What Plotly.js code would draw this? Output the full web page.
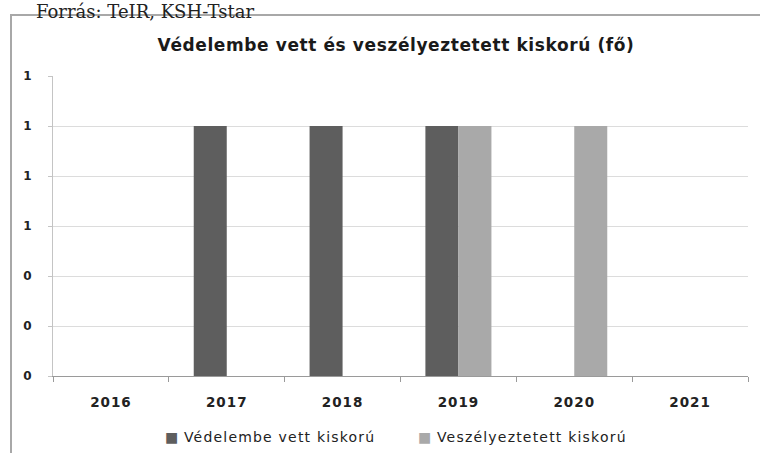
<!DOCTYPE html>
<html>
<head>
<meta charset="utf-8">
<script src="https://cdn.plot.ly/plotly-3.0.1.min.js"></script>
<style>
html,body{margin:0;padding:0;background:#fff;}
#chart{width:760px;height:453px;}
#chart .xtick text{letter-spacing:1px;}
</style>
</head>
<body>
<div id="chart"></div>
<script>
const years = ['2016', '2017', '2018', '2019', '2020', '2021'];
const vedelembeVett = [0, 1, 1, 1, 0, 0];
const veszelyeztetett = [0, 0, 0, 1, 1, 0];
const yTicks = [0, 0.2, 0.4, 0.6, 0.8, 1.0, 1.2];
const seriesNames = ['Védelembe vett kiskorú', 'Veszélyeztetett kiskorú'];
const seriesColors = ['#5e5e5e', '#a9a9a9'];
const titleText = 'Védelembe vett és veszélyeztetett kiskorú (fő)';
const sourceText = 'Forrás: TeIR, KSH-Tstar';

const FONT = '"DejaVu Sans", "Open Sans", sans-serif';

const traces = [
  {type: 'bar', x: years, y: vedelembeVett, name: seriesNames[0],
   marker: {color: seriesColors[0]}, hoverinfo: 'x+y'},
  {type: 'bar', x: years, y: veszelyeztetett, name: seriesNames[1],
   marker: {color: seriesColors[1]}, hoverinfo: 'x+y'}
];

const pxX = p => (p - 53) / 695;
const pxY = p => (376 - p) / 300;

const legendAnn = (i, xpx) => ({
  text: '<span style="color:' + seriesColors[i] + '">■</span><span style="letter-spacing:1.2px"> ' + seriesNames[i] + '</span>',
  xref: 'paper', yref: 'paper', x: pxX(xpx), xanchor: 'left', y: pxY(437), yanchor: 'middle',
  showarrow: false, font: {family: FONT, size: 14, color: '#222'}
});

const layout = {
  width: 760, height: 453,
  margin: {l: 53, r: 12, t: 76, b: 77},
  paper_bgcolor: '#fff', plot_bgcolor: '#fff',
  font: {family: FONT, color: '#222'},
  title: {text: '<b><span style="letter-spacing:0.6px">' + titleText + '</span></b>', x: 396 / 760, xanchor: 'center',
          y: 1 - 45 / 453, yanchor: 'middle', font: {size: 17, color: '#1a1a1a', family: FONT}},
  barmode: 'group', bargap: 0.43, bargroupgap: 0,
  xaxis: {type: 'category', showgrid: false, showline: true, linecolor: '#9a9a9a', linewidth: 1,
          ticks: 'outside', tickson: 'boundaries', ticklen: 5, tickcolor: '#9a9a9a',
          ticklabelstandoff: 14, automargin: false,
          tickfont: {size: 13.5, color: '#222', family: FONT, weight: 'bold'}, fixedrange: true},
  yaxis: {range: [0, 1.2], tickvals: yTicks, tickformat: '.0f', showgrid: true, gridcolor: '#dcdcdc',
          zeroline: false, showline: true, linecolor: '#c4c4c4', linewidth: 1, automargin: false,
          ticks: 'outside', ticklen: 4, tickcolor: '#c4c4c4', ticklabelstandoff: 14,
          tickfont: {size: 12, color: '#222', family: FONT, weight: 'bold'}, fixedrange: true},
  showlegend: false,
  shapes: [
    {type: 'rect', xref: 'paper', yref: 'paper', x0: pxX(11), x1: pxX(770), y0: pxY(15), y1: pxY(470),
     line: {color: '#a8a8a8', width: 2}, fillcolor: 'rgba(0,0,0,0)', layer: 'below'}
  ],
  annotations: [
    {text: sourceText, xref: 'paper', yref: 'paper', x: pxX(34), xanchor: 'left', y: pxY(-1), yanchor: 'top',
     showarrow: false, font: {family: '"DejaVu Serif", "Liberation Serif", serif', size: 18, color: '#222'}},
    legendAnn(0, 163),
    legendAnn(1, 416)
  ]
};

Plotly.newPlot('chart', traces, layout, {displayModeBar: false, staticPlot: true});
</script>
</body>
</html>
